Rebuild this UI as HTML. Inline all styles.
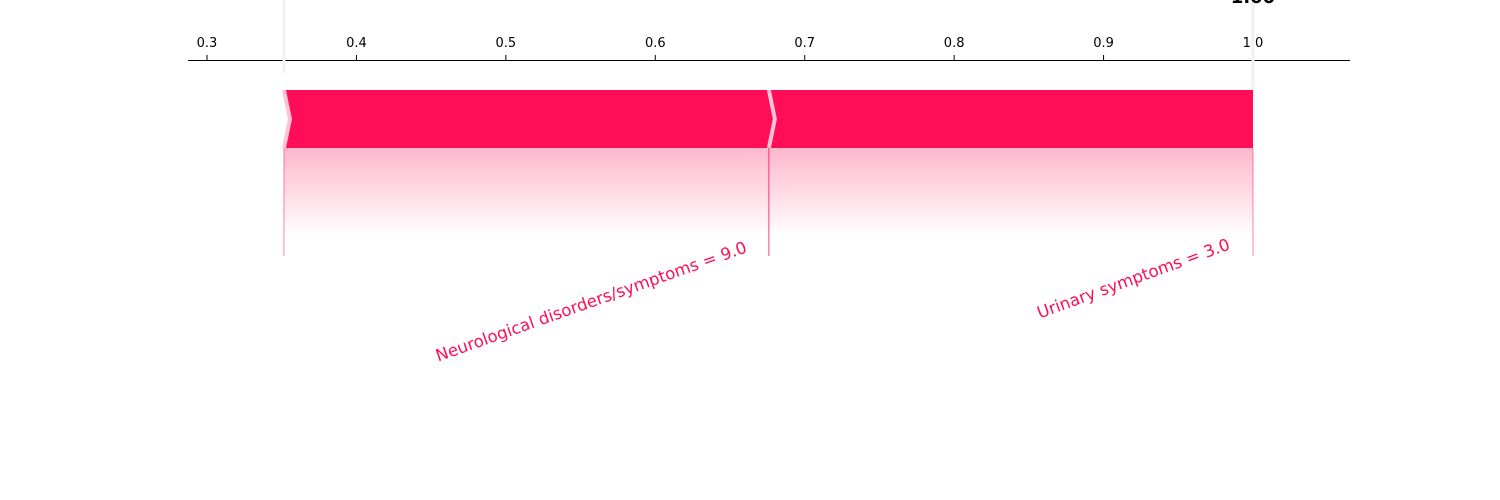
<!DOCTYPE html>
<html><head><meta charset="utf-8"><style>
html,body{margin:0;padding:0;background:#fff;width:1500px;height:500px;overflow:hidden}
svg text{font-family:"DejaVu Sans","Liberation Sans",sans-serif}
</style></head><body>
<svg id="chart" width="1500" height="500" xmlns="http://www.w3.org/2000/svg">
<defs>
<linearGradient id="fade" x1="0" y1="0" x2="0" y2="1">
<stop offset="0" stop-color="#ff0d57" stop-opacity="0.3"/>
<stop offset="1" stop-color="#ff0d57" stop-opacity="0"/>
</linearGradient>
</defs>
<g id="axis"></g>
<g id="marks"></g>
</svg>
<script>
const ticks=[0.3,0.4,0.5,0.6,0.7,0.8,0.9,1.0];
const tickLabels=["0.3","0.4","0.5","0.6","0.7","0.8","0.9","1.0"];
const baseValue=0.3515;
const outputValue=1.0;
const features=["Neurological disorders/symptoms = 9.0","Urinary symptoms = 3.0"];
const contributions=[0.3245,0.324];

const NS="http://www.w3.org/2000/svg";
const xs=v=>207+(v-0.3)*1494.3;
function mk(t,a,p){const e=document.createElementNS(NS,t);for(const k in a)e.setAttribute(k,a[k]);p.appendChild(e);return e;}
const ax=document.getElementById('axis'),mg=document.getElementById('marks');
const al=mk('line',{x1:188,x2:1350,y1:60.5,y2:60.5,stroke:'#000','stroke-width':1},ax);


ticks.forEach((t,i)=>{
 const tl=mk('line',{x1:xs(t),x2:xs(t),y1:55,y2:60,stroke:'#000'},ax);
 
 
 const tx=mk('text',{x:xs(t),y:47,'text-anchor':'middle','font-size':13,fill:'#000'},ax);
 tx.textContent=tickLabels[i];
 
 
});
const bl=mk('line',{x1:xs(baseValue),x2:xs(baseValue),y1:0,y2:73,stroke:'#f1f1f1','stroke-width':3},ax);


const ol=mk('line',{x1:xs(outputValue),x2:xs(outputValue),y1:0,y2:90,stroke:'#f1f1f1','stroke-width':3},ax);


const ot=mk('text',{x:xs(outputValue),y:3,'text-anchor':'middle','font-size':18,'font-weight':'bold',fill:'#000'},ax);
ot.textContent=outputValue.toFixed(2);



let cur=baseValue;const bTop=90,bBot=148,bMid=119,pt=6;
const lOff=[[-21,252,-19.5],[-22,249,-20]];
features.forEach((f,i)=>{
 const s=xs(cur),e=xs(cur+contributions[i]);cur+=contributions[i];
 const last=i===features.length-1;
 const pts=last?`${s},${bTop} ${e},${bTop} ${e},${bBot} ${s},${bBot} ${s+pt},${bMid}`:`${s},${bTop} ${e},${bTop} ${e+pt},${bMid} ${e},${bBot} ${s},${bBot} ${s+pt},${bMid}`;
 const poly=mk('polygon',{points:pts,fill:'#ff0d57'},mg);
 
 
 const sep=mk('polyline',{points:`${s},${bTop} ${s+pt},${bMid} ${s},${bBot}`,fill:'none',stroke:'#ffc3d5','stroke-width':4},mg);
 
 
 const g=mk('rect',{x:s,y:bBot,width:e-s,height:88,fill:'url(#fade)'},mg);
 
 
 [s,e].forEach(xx=>{const l=mk('line',{x1:xx,x2:xx,y1:bBot,y2:256,stroke:'#ff0d57','stroke-opacity':0.5,'stroke-width':1},mg);
 
 });
 const lx=e+lOff[i][0],ly=lOff[i][1];
 const t=mk('text',{x:lx,y:ly,'text-anchor':'end','font-size':16.6,fill:'#ff0d57',transform:`rotate(${lOff[i][2]} ${lx} ${ly})`},mg);
 t.textContent=f;
 
 
});
</script>
</body></html>
